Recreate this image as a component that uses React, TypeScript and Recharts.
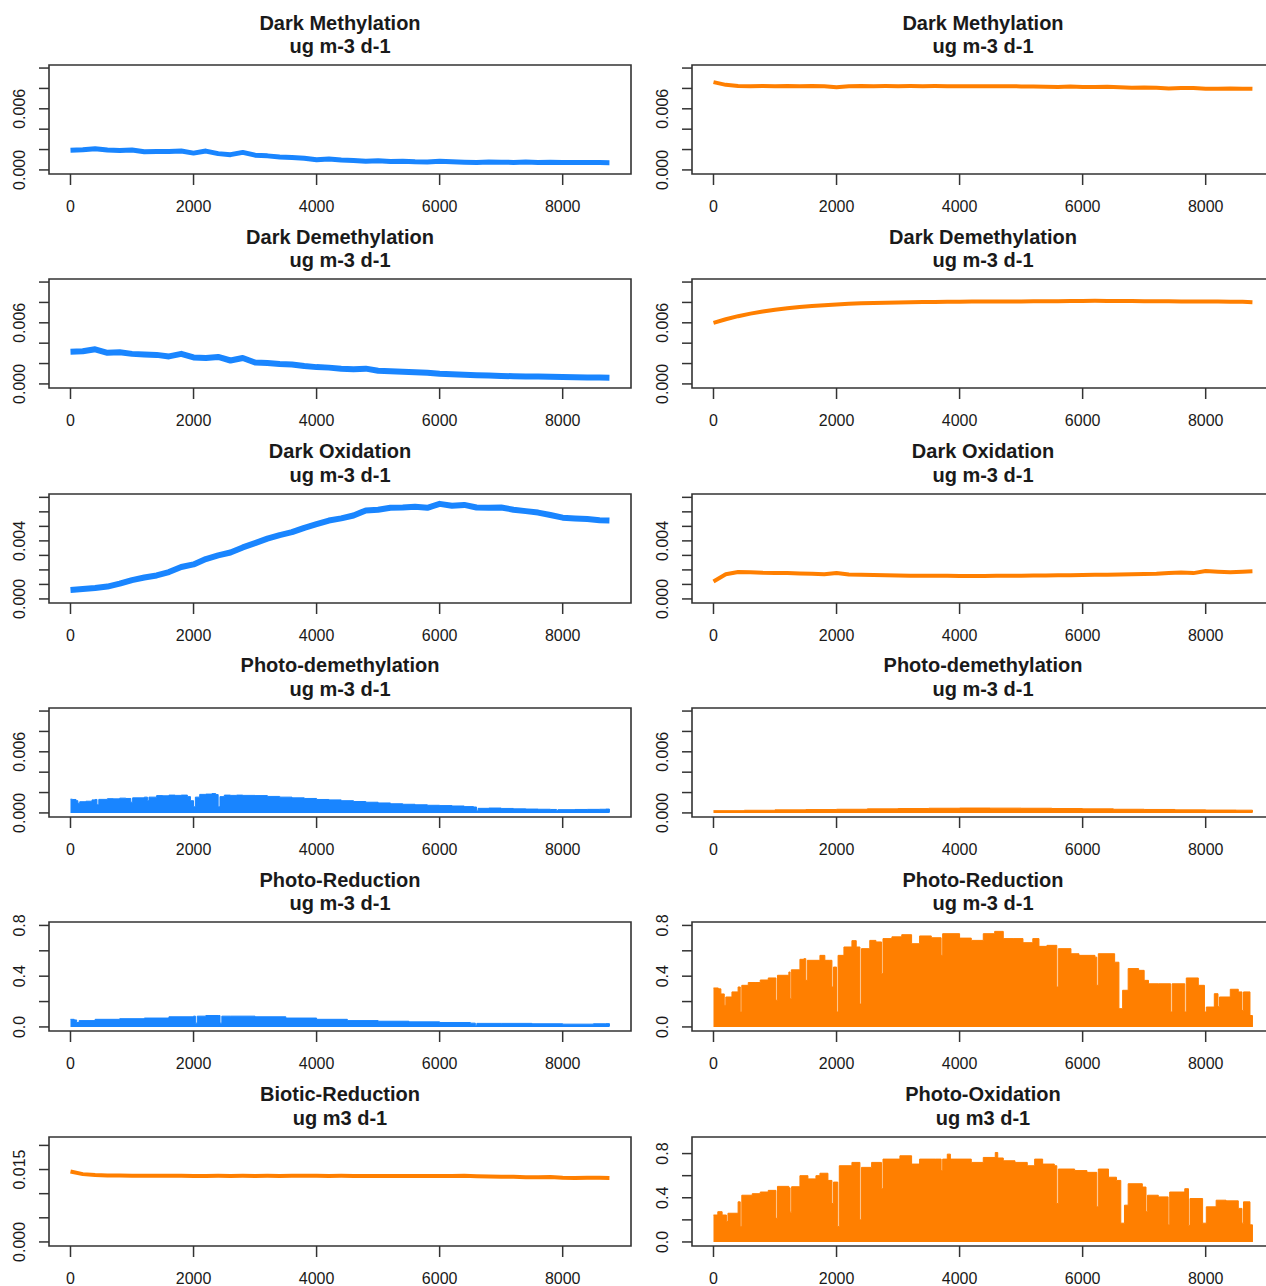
import React from 'react';
import { ComposedChart, Line, Area, XAxis, YAxis, ReferenceArea } from 'recharts';

const BLUE = '#1985ff';
const ORANGE = '#ff7f00';
const INK = '#333333';
const TEXT = '#1a1a1a';
const FONT = '"Liberation Sans", Arial, Helvetica, sans-serif';

const CELL_W = 643;
const CELL_H = 214.33;
const CHART_H = 226;
const X_DOMAIN: [number, number] = [-349.4, 9110.4];
const X_TICKS = [0, 2000, 4000, 6000, 8000];

// hour of year for the slowly varying rate lines
const lineHours = [
  0, 200, 400, 600, 800, 1000, 1200, 1400, 1600, 1800, 2000, 2200, 2400, 2600, 2800,
  3000, 3200, 3400, 3600, 3800, 4000, 4200, 4400, 4600, 4800, 5000, 5200, 5400, 5600,
  5800, 6000, 6200, 6400, 6600, 6800, 7000, 7200, 7400, 7600, 7800, 8000, 8200, 8400,
  8600, 8760,
];

const darkMethylBlue = [
  0.00193, 0.00198, 0.00208, 0.00195, 0.0019, 0.00195, 0.00178, 0.0018, 0.00182, 0.00185,
  0.00165, 0.00185, 0.0016, 0.0015, 0.00172, 0.00145, 0.00138, 0.00128, 0.00122, 0.00115,
  0.001, 0.00108, 0.00098, 0.00092, 0.00085, 0.0009, 0.00082, 0.00086, 0.0008, 0.00078,
  0.00086, 0.0008, 0.00076, 0.00072, 0.00078, 0.00076, 0.00074, 0.00077, 0.00073, 0.00075,
  0.00072, 0.00073, 0.00072, 0.00072, 0.00071,
];
const darkMethylOrange = [
  0.00862, 0.00835, 0.00825, 0.00822, 0.00824, 0.00822, 0.00824, 0.00822, 0.00825, 0.00822,
  0.00812, 0.00822, 0.00824, 0.00822, 0.00823, 0.00822, 0.00823, 0.00822, 0.00823, 0.00822,
  0.00822, 0.00821, 0.00822, 0.00821, 0.00822, 0.0082, 0.0082, 0.00817, 0.00814, 0.00818,
  0.00815, 0.00814, 0.00816, 0.00812, 0.00806, 0.0081, 0.00806, 0.008, 0.00803, 0.00805,
  0.00798, 0.00796, 0.00799, 0.00798, 0.00796,
];
const darkDemethBlue = [
  0.00315, 0.0032, 0.0034, 0.00305, 0.0031, 0.00295, 0.0029, 0.00285, 0.0027, 0.00295,
  0.0026, 0.00255, 0.00265, 0.0023, 0.00255, 0.0021, 0.00205, 0.00195, 0.0019, 0.00175,
  0.00165, 0.0016, 0.0015, 0.00145, 0.0015, 0.0013, 0.00125, 0.0012, 0.00115, 0.0011,
  0.001, 0.00095, 0.0009, 0.00085, 0.00082, 0.00078, 0.00076, 0.00074, 0.00072, 0.0007,
  0.00068, 0.00065, 0.00063, 0.00062, 0.0006,
];
const darkDemethOrange = [
  0.006, 0.00635, 0.00665, 0.0069, 0.0071, 0.00728, 0.00742, 0.00755, 0.00765, 0.00773,
  0.0078, 0.00786, 0.00791, 0.00795, 0.00798, 0.008, 0.00802, 0.00804, 0.00805, 0.00806,
  0.00807, 0.00808, 0.00808, 0.00809, 0.0081, 0.0081, 0.00811, 0.00812, 0.00812, 0.00813,
  0.00815, 0.00816, 0.00815, 0.00814, 0.00813, 0.00812, 0.00812, 0.00811, 0.0081, 0.0081,
  0.00809, 0.00808, 0.00807, 0.00806, 0.00802,
];
const darkOxBlue = [
  0.00062, 0.00068, 0.00075, 0.00085, 0.00105, 0.0013, 0.00148, 0.00162, 0.00185, 0.0022,
  0.00238, 0.00275, 0.003, 0.0032, 0.00355, 0.00385, 0.00415, 0.0044, 0.0046, 0.0049,
  0.00515, 0.0054, 0.00555, 0.00575, 0.0061, 0.00615, 0.00628, 0.0063, 0.00635, 0.00628,
  0.00655, 0.00642, 0.00648, 0.0063, 0.00628, 0.0063, 0.00615, 0.00605, 0.00595, 0.00578,
  0.0056, 0.00555, 0.0055, 0.00542, 0.0054,
];
const darkOxOrange = [
  0.0012, 0.0017, 0.00186, 0.00184, 0.0018, 0.00179, 0.00178, 0.00176, 0.00174, 0.0017,
  0.00178, 0.00168, 0.00166, 0.00165, 0.00163, 0.00162, 0.0016, 0.0016, 0.00159, 0.00159,
  0.00158, 0.00158, 0.00158, 0.00159, 0.00159, 0.0016, 0.00161, 0.00162, 0.00163, 0.00164,
  0.00165, 0.00166, 0.00166, 0.00168, 0.0017, 0.00172, 0.00174, 0.00178, 0.00182, 0.00178,
  0.00192, 0.00188, 0.00184, 0.00188, 0.0019,
];
const bioticOrange = [
  0.0146, 0.01405, 0.01385, 0.01378, 0.01375, 0.01372, 0.01372, 0.0137, 0.01372, 0.0137,
  0.01365, 0.01368, 0.0137, 0.01368, 0.0137, 0.01368, 0.0137, 0.01368, 0.0137, 0.01372,
  0.0137, 0.01368, 0.0137, 0.01368, 0.01368, 0.01368, 0.01366, 0.01368, 0.01367, 0.01368,
  0.01366, 0.01368, 0.0137, 0.0136, 0.01355, 0.0135, 0.0135, 0.0134, 0.01342, 0.01345,
  0.0133, 0.01325, 0.0133, 0.0133, 0.01325,
];

// daily peaks of the light-driven rates, as [hour, rate]; each value holds until the next hour
const photoDemethBlue: [number, number][] = [
  [0, 1.35e-3], [30, 1.32e-3], [90, 1.2e-3], [120, 0.95e-3], [150, 1.1e-3], [250, 1.15e-3],
  [350, 1.28e-3], [400, 1.32e-3], [430, 0.8e-3], [460, 1.33e-3], [600, 1.4e-3], [700, 1.38e-3],
  [800, 1.45e-3], [900, 1.42e-3], [980, 1.05e-3], [1010, 1.48e-3], [1200, 1.55e-3], [1250, 1.2e-3],
  [1275, 1.55e-3], [1400, 1.7e-3], [1500, 1.68e-3], [1600, 1.75e-3], [1700, 1.72e-3], [1800, 1.75e-3],
  [1900, 1.6e-3], [1950, 1.2e-3], [2000, 0.6e-3], [2030, 1.55e-3], [2100, 1.82e-3], [2200, 1.85e-3],
  [2300, 1.9e-3], [2360, 1.8e-3], [2400, 0.6e-3], [2430, 1.6e-3], [2500, 1.75e-3], [2600, 1.72e-3],
  [2700, 1.75e-3], [2800, 1.72e-3], [3000, 1.7e-3], [3200, 1.62e-3], [3400, 1.55e-3], [3600, 1.48e-3],
  [3800, 1.42e-3], [4000, 1.32e-3], [4200, 1.28e-3], [4400, 1.2e-3], [4600, 1.12e-3], [4800, 1.05e-3],
  [5000, 0.98e-3], [5200, 0.9e-3], [5400, 0.85e-3], [5600, 0.8e-3], [5800, 0.75e-3], [6000, 0.72e-3],
  [6200, 0.68e-3], [6400, 0.62e-3], [6550, 0.58e-3], [6600, 0.2e-3], [6625, 0.45e-3], [6800, 0.48e-3],
  [7000, 0.44e-3], [7200, 0.4e-3], [7400, 0.38e-3], [7600, 0.36e-3], [7800, 0.34e-3], [7900, 0.25e-3],
  [7925, 0.32e-3], [8200, 0.34e-3], [8400, 0.35e-3], [8600, 0.36e-3], [8700, 0.38e-3], [8760, 0.05e-3],
];
const photoDemethOrange: [number, number][] = [
  [0, 0.22e-3], [500, 0.26e-3], [1000, 0.3e-3], [1500, 0.33e-3], [2000, 0.36e-3], [2500, 0.4e-3],
  [3000, 0.43e-3], [3500, 0.46e-3], [4000, 0.48e-3], [4500, 0.47e-3], [5000, 0.46e-3], [5500, 0.43e-3],
  [6000, 0.4e-3], [6500, 0.36e-3], [7000, 0.34e-3], [7500, 0.3e-3], [8000, 0.28e-3], [8500, 0.27e-3],
  [8760, 0.05e-3],
];
const photoReductBlue: [number, number][] = [
  [0, 0.06], [60, 0.055], [100, 0.035], [140, 0.05], [400, 0.06], [800, 0.065], [1200, 0.07],
  [1600, 0.08], [2000, 0.085], [2030, 0.03], [2060, 0.085], [2200, 0.09], [2400, 0.09], [2430, 0.03],
  [2460, 0.085], [2600, 0.085], [3000, 0.08], [3500, 0.07], [4000, 0.06], [4500, 0.05], [5000, 0.045],
  [5500, 0.04], [6000, 0.035], [6500, 0.03], [6580, 0.012], [6605, 0.028], [7000, 0.028], [7500, 0.025],
  [8000, 0.022], [8500, 0.025], [8700, 0.026], [8760, 0.005],
];
const photoReductOrange: [number, number][] = [
  [0, 0.307], [78, 0.3], [120, 0.26], [175, 0.17], [200, 0.236], [300, 0.276], [400, 0.315],
  [435, 0.118], [460, 0.328], [565, 0.35], [690, 0.35], [760, 0.37], [890, 0.386], [1015, 0.21],
  [1040, 0.407], [1225, 0.433], [1245, 0.223], [1265, 0.45], [1405, 0.533], [1470, 0.538],
  [1500, 0.367], [1525, 0.525], [1730, 0.564], [1810, 0.525], [1890, 0.525], [1925, 0.315],
  [1950, 0.472], [2000, 0.118], [2025, 0.564], [2120, 0.63], [2250, 0.68], [2320, 0.63],
  [2380, 0.18], [2405, 0.617], [2540, 0.682], [2640, 0.67], [2730, 0.42], [2755, 0.696],
  [2900, 0.71], [3060, 0.727], [3220, 0.656], [3350, 0.717], [3540, 0.703], [3700, 0.564],
  [3725, 0.735], [4000, 0.7], [4190, 0.682], [4385, 0.735], [4570, 0.753], [4710, 0.696],
  [4870, 0.696], [5030, 0.664], [5190, 0.696], [5290, 0.635], [5420, 0.643], [5580, 0.315],
  [5605, 0.617], [5810, 0.577], [5940, 0.564], [6200, 0.55], [6230, 0.328], [6255, 0.577],
  [6520, 0.51], [6590, 0.144], [6650, 0.289], [6740, 0.46], [6910, 0.446], [7000, 0.367],
  [7070, 0.34], [7230, 0.34], [7430, 0.118], [7455, 0.34], [7660, 0.118], [7685, 0.386],
  [7880, 0.328], [7980, 0.118], [8010, 0.157], [8140, 0.262], [8200, 0.16], [8225, 0.236],
  [8400, 0.297], [8530, 0.276], [8590, 0.13], [8615, 0.276], [8720, 0.09], [8760, 0],
];
const photoOxOrange: [number, number][] = [
  [0, 0.244], [70, 0.274], [140, 0.244], [210, 0.185], [235, 0.26], [400, 0.363], [435, 0.14],
  [460, 0.423], [630, 0.437], [760, 0.452], [890, 0.467], [1015, 0.214], [1040, 0.503],
  [1225, 0.49], [1245, 0.27], [1270, 0.5], [1405, 0.6], [1535, 0.571], [1665, 0.6], [1730, 0.622],
  [1860, 0.557], [1925, 0.348], [1950, 0.542], [2020, 0.14], [2045, 0.69], [2250, 0.72],
  [2380, 0.2], [2405, 0.675], [2570, 0.72], [2730, 0.482], [2755, 0.75], [3030, 0.78],
  [3220, 0.705], [3350, 0.75], [3610, 0.75], [3700, 0.646], [3725, 0.75], [3800, 0.795],
  [3850, 0.75], [4190, 0.72], [4385, 0.765], [4580, 0.81], [4620, 0.76], [4710, 0.735],
  [4900, 0.72], [5100, 0.69], [5220, 0.75], [5350, 0.705], [5540, 0.69], [5580, 0.348],
  [5605, 0.66], [5870, 0.646], [6070, 0.63], [6230, 0.318], [6255, 0.66], [6420, 0.586],
  [6550, 0.557], [6620, 0.17], [6680, 0.333], [6740, 0.527], [6970, 0.497], [7030, 0.274],
  [7055, 0.423], [7230, 0.408], [7390, 0.155], [7415, 0.452], [7660, 0.482], [7720, 0.15],
  [7745, 0.393], [7950, 0.17], [8010, 0.318], [8170, 0.378], [8330, 0.372], [8530, 0.304],
  [8590, 0.17], [8615, 0.363], [8720, 0.155], [8760, 0],
];

type YScale = { domain: [number, number]; ticks: number[]; labels: string[] };

// R-style padded ranges: tick every step, only some ticks carry a label
const yMilli: YScale = {
  domain: [-0.0004, 0.0103],
  ticks: [0, 0.002, 0.004, 0.006, 0.008, 0.01],
  labels: ['0.000', '', '', '0.006', '', ''],
};
const yOx: YScale = {
  domain: [-0.00028, 0.00723],
  ticks: [0, 0.001, 0.002, 0.003, 0.004, 0.005, 0.006, 0.007],
  labels: ['0.000', '', '', '', '0.004', '', '', ''],
};
const yReduct: YScale = {
  domain: [-0.032, 0.827],
  ticks: [0, 0.2, 0.4, 0.6, 0.8],
  labels: ['0.0', '', '0.4', '', '0.8'],
};
const yBiotic: YScale = {
  domain: [-0.00084, 0.02174],
  ticks: [0, 0.005, 0.01, 0.015, 0.02],
  labels: ['0.000', '', '', '0.015', ''],
};
const yPhotoOx: YScale = {
  domain: [-0.0365, 0.95],
  ticks: [0, 0.2, 0.4, 0.6, 0.8],
  labels: ['0.0', '', '0.4', '', '0.8'],
};

type Pt = { h: number; v: number };
const fromLine = (vals: number[]): Pt[] => vals.map((v, i) => ({ h: lineHours[i], v }));
const fromPairs = (pairs: [number, number][]): Pt[] => pairs.map(([h, v]) => ({ h, v }));

type Panel = {
  title: string;
  unit: string;
  row: number;
  col: number;
  color: string;
  kind: 'line' | 'area';
  width: number;
  points: Pt[];
  y: YScale;
};

const UNIT = 'ug m-3 d-1';
const UNIT6 = 'ug m3 d-1';

const panels: Panel[] = [
  { title: 'Dark Methylation', unit: UNIT, row: 0, col: 0, color: BLUE, kind: 'line', width: 5, points: fromLine(darkMethylBlue), y: yMilli },
  { title: 'Dark Methylation', unit: UNIT, row: 0, col: 1, color: ORANGE, kind: 'line', width: 4, points: fromLine(darkMethylOrange), y: yMilli },
  { title: 'Dark Demethylation', unit: UNIT, row: 1, col: 0, color: BLUE, kind: 'line', width: 6, points: fromLine(darkDemethBlue), y: yMilli },
  { title: 'Dark Demethylation', unit: UNIT, row: 1, col: 1, color: ORANGE, kind: 'line', width: 4, points: fromLine(darkDemethOrange), y: yMilli },
  { title: 'Dark Oxidation', unit: UNIT, row: 2, col: 0, color: BLUE, kind: 'line', width: 6, points: fromLine(darkOxBlue), y: yOx },
  { title: 'Dark Oxidation', unit: UNIT, row: 2, col: 1, color: ORANGE, kind: 'line', width: 4, points: fromLine(darkOxOrange), y: yOx },
  { title: 'Photo-demethylation', unit: UNIT, row: 3, col: 0, color: BLUE, kind: 'area', width: 1, points: fromPairs(photoDemethBlue), y: yMilli },
  { title: 'Photo-demethylation', unit: UNIT, row: 3, col: 1, color: ORANGE, kind: 'area', width: 1, points: fromPairs(photoDemethOrange), y: yMilli },
  { title: 'Photo-Reduction', unit: UNIT, row: 4, col: 0, color: BLUE, kind: 'area', width: 1, points: fromPairs(photoReductBlue), y: yReduct },
  { title: 'Photo-Reduction', unit: UNIT, row: 4, col: 1, color: ORANGE, kind: 'area', width: 1, points: fromPairs(photoReductOrange), y: yReduct },
  { title: 'Biotic-Reduction', unit: UNIT6, row: 5, col: 0, color: ORANGE, kind: 'line', width: 4, points: fromLine(bioticOrange), y: yBiotic },
  { title: 'Photo-Oxidation', unit: UNIT6, row: 5, col: 1, color: ORANGE, kind: 'area', width: 1, points: fromPairs(photoOxOrange), y: yPhotoOx },
];

function PanelChart({ p }: { p: Panel }) {
  // vertical tick labels, reading bottom-to-top like R's las=0
  const renderYTick = (props: any) => {
    const idx = p.y.ticks.indexOf(props.payload.value);
    const text = p.y.labels[idx];
    if (!text) return <g />;
    return (
      <text
        transform={`translate(19.5, ${props.y}) rotate(-90)`}
        textAnchor="middle"
        dy="0.36em"
        fill={TEXT}
        fontSize={16}
        fontFamily={FONT}
      >
        {text}
      </text>
    );
  };

  return (
    <div
      style={{
        position: 'absolute',
        left: p.col * CELL_W,
        top: Math.round(p.row * CELL_H),
        width: CELL_W,
        height: CHART_H,
      }}
    >
      <ComposedChart
        width={CELL_W}
        height={CHART_H}
        data={p.points}
        margin={{ top: 65, right: 12, bottom: 12, left: 9 }}
      >
        <XAxis
          dataKey="h"
          type="number"
          domain={X_DOMAIN}
          ticks={X_TICKS}
          interval={0}
          allowDataOverflow
          axisLine={false}
          tickSize={11}
          tickMargin={16}
          tickLine={{ stroke: INK, strokeWidth: 1.5 }}
          tick={{ fill: TEXT, fontSize: 16, fontFamily: FONT }}
          height={40}
        />
        <YAxis
          type="number"
          domain={p.y.domain}
          ticks={p.y.ticks}
          interval={0}
          allowDataOverflow
          axisLine={false}
          tickSize={10}
          tickLine={{ stroke: INK, strokeWidth: 1.5 }}
          tick={renderYTick}
          width={40}
        />
        {p.kind === 'area' ? (
          <Area
            type="stepAfter"
            dataKey="v"
            stroke={p.color}
            strokeWidth={p.width}
            fill={p.color}
            fillOpacity={1}
            baseValue={0}
            dot={false}
            activeDot={false}
            isAnimationActive={false}
          />
        ) : (
          <Line
            type="linear"
            dataKey="v"
            stroke={p.color}
            strokeWidth={p.width}
            strokeLinejoin="round"
            dot={false}
            activeDot={false}
            isAnimationActive={false}
          />
        )}
        <ReferenceArea
          x1={X_DOMAIN[0]}
          x2={X_DOMAIN[1]}
          y1={p.y.domain[0]}
          y2={p.y.domain[1]}
          fill="none"
          stroke={INK}
          strokeWidth={1.6}
          ifOverflow="visible"
        />
      </ComposedChart>
    </div>
  );
}

export default function App() {
  return (
    <div
      style={{
        position: 'absolute',
        left: 0,
        top: 0,
        width: 1266,
        height: 1286,
        overflow: 'hidden',
        background: '#fff',
        fontFamily: FONT,
      }}
    >
      {panels.map((p) => (
        <PanelChart key={`${p.row}-${p.col}`} p={p} />
      ))}
      <svg
        width={1266}
        height={1286}
        style={{ position: 'absolute', left: 0, top: 0, pointerEvents: 'none' }}
      >
        {panels.map((p) => {
          const cx = p.col * CELL_W + 340;
          const top = p.row * CELL_H;
          return (
            <g key={`t-${p.row}-${p.col}`} fill={TEXT} fontFamily={FONT} fontWeight="bold" fontSize={20} textAnchor="middle">
              <text x={cx} y={top + 29.5}>{p.title}</text>
              <text x={cx} y={top + 53}>{p.unit}</text>
            </g>
          );
        })}
      </svg>
    </div>
  );
}
